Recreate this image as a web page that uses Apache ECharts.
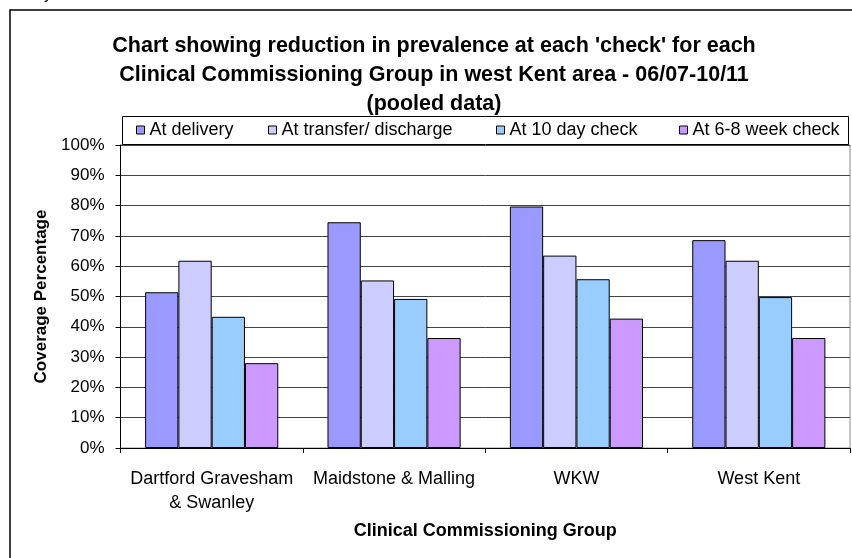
<!DOCTYPE html>
<html>
<head>
<meta charset="utf-8">
<script src="https://cdn.jsdelivr.net/npm/echarts@6/dist/echarts.min.js"></script>
<style>
  html, body { margin: 0; padding: 0; background: #fff; }
  #main { width: 852px; height: 558px; }
</style>
</head>
<body>
<div id="main"></div>
<script>
// 数据
var categories = ['Dartford Gravesham\n& Swanley', 'Maidstone & Malling', 'WKW', 'West Kent'];
var seriesNames = ['At delivery', 'At transfer/ discharge', 'At 10 day check', 'At 6-8 week check'];
var atDelivery = [51.4, 74.5, 79.7, 68.6];
var atTransfer = [61.8, 55.3, 63.5, 61.8];
var at10Day = [43.3, 49.2, 55.7, 49.8];
var at6to8Week = [28.0, 36.3, 42.7, 36.3];
var colors = ['#9999FF', '#CCCCFF', '#99CCFF', '#CC99FF'];

var font = 'Liberation Sans, Arial, sans-serif';
var chart = echarts.init(document.getElementById('main'));

//每个图例单独定位
var legendLeft = [136, 268, 496, 679];
var legends = seriesNames.map(function (name, i) {
    return {
        data: [name],
        left: legendLeft[i],
        top: 121,
        icon: 'rect',
        itemWidth: 8,
        itemHeight: 8,
        itemGap: 0,
        padding: 0,
        selectedMode: false,
        textStyle: { fontFamily: font, fontSize: 18, color: '#000' },
        itemStyle: { borderColor: '#000', borderWidth: 1 }
    };
});

var seriesData = [atDelivery, atTransfer, at10Day, at6to8Week];
var series = seriesData.map(function (d, i) {
    return {
        name: seriesNames[i],
        type: 'bar',
        data: d,
        barGap: '0%',
        barCategoryGap: '27%',
        itemStyle: { color: colors[i], borderColor: '#000', borderWidth: 1 },
        emphasis: { disabled: true }
    };
});

chart.setOption({
    animation: false,
    color: colors,
    title: {
        text: "Chart showing reduction in prevalence at each 'check' for each\nClinical Commissioning Group in west Kent area - 06/07-10/11\n(pooled data)",
        left: 429,
        top: 27,
        textAlign: 'center',
        textStyle: { fontFamily: font, fontSize: 21.5, fontWeight: 'bold', color: '#000', lineHeight: 29 }
    },
    legend: legends,
    grid: {
        left: 120.5, right: 2, top: 145, bottom: 110,
        show: true, borderColor: '#888', borderWidth: 1
    },
    xAxis: {
        type: 'category',
        data: categories,
        name: 'Clinical Commissioning Group',
        nameLocation: 'middle',
        nameGap: 74,
        nameTextStyle: { fontFamily: font, fontSize: 18, fontWeight: 'bold', color: '#000' },
        axisLine: { lineStyle: { color: '#000', width: 1 } },
        axisTick: { show: true, length: 5, lineStyle: { color: '#000' } },
        axisLabel: { fontFamily: font, fontSize: 18, color: '#000', margin: 19, lineHeight: 24, interval: 0 }
    },
    yAxis: {
        type: 'value',
        min: 0, max: 100, interval: 10,
        name: 'Coverage Percentage',
        nameLocation: 'middle',
        nameGap: 71,
        nameTextStyle: { fontFamily: font, fontSize: 17, fontWeight: 'bold', color: '#000' },
        axisLine: { show: true, lineStyle: { color: '#000', width: 1 } },
        axisTick: { show: true, length: 5, lineStyle: { color: '#000' } },
        axisLabel: { fontFamily: font, fontSize: 17, color: '#000', margin: 16, padding: [5, 0, 0, 0], formatter: '{value}%' },
        splitLine: { show: true, lineStyle: { color: '#444', width: 1 } }
    },
    graphic: [
        {   //外框
            type: 'rect', z: -1, silent: true,
            shape: { x: 10, y: 10, width: 900, height: 600 },
            style: { fill: '#fff', stroke: '#000', lineWidth: 1.5 }
        },
        {   //图例框
            type: 'rect', z: 0, silent: true,
            shape: { x: 122.5, y: 116.5, width: 726, height: 28 },
            style: { fill: '#fff', stroke: '#000', lineWidth: 1 }
        },
        {
            type: 'text', silent: true,
            style: { x: 44, y: -13, text: 'y', fontFamily: font, fontSize: 16, fill: '#000' }
        }
    ],
    series: series
});
</script>
</body>
</html>
